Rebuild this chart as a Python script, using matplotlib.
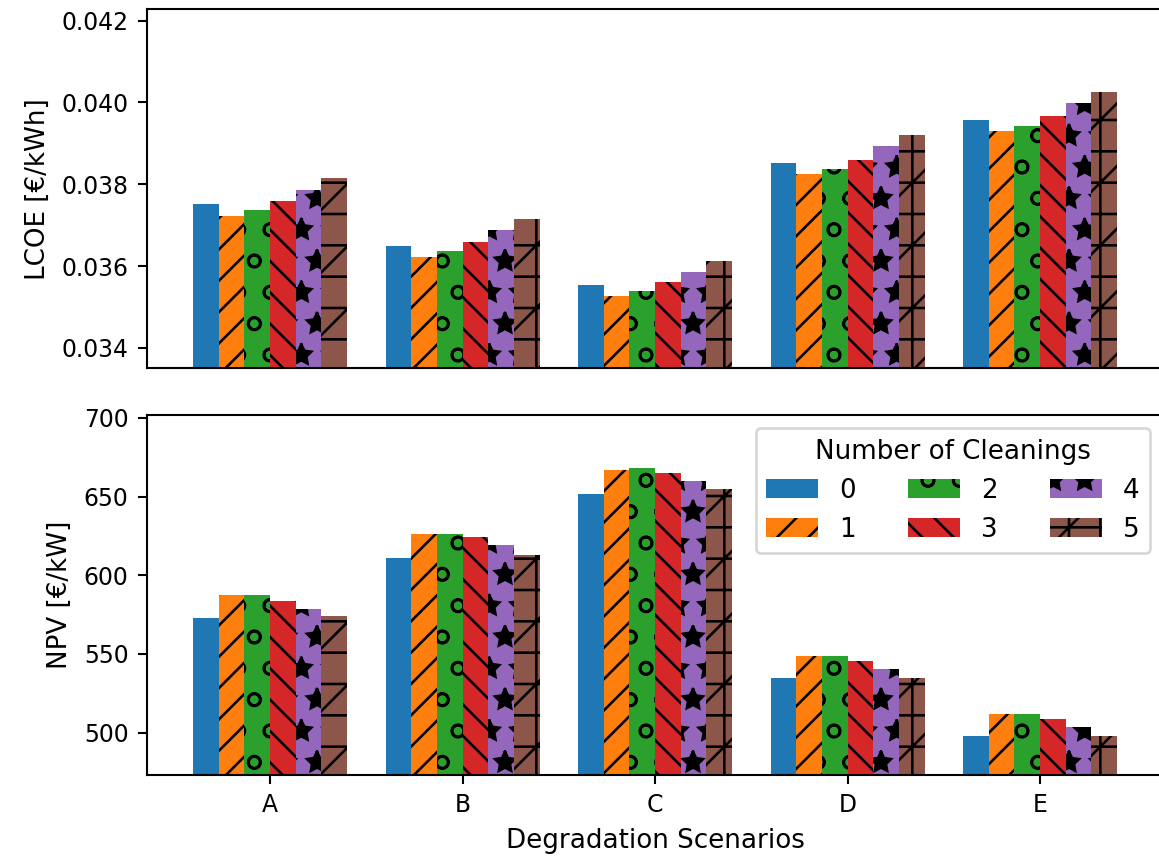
import numpy as np
import matplotlib
matplotlib.use("Agg")
import matplotlib.pyplot as plt
from matplotlib.ticker import MultipleLocator

scenarios = ["A", "B", "C", "D", "E"]
cleanings = ["0", "1", "2", "3", "4", "5"]

# LCOE [EUR/kWh] per number of cleanings, over scenarios A-E
lcoe_0 = [0.03751, 0.03650, 0.03554, 0.03852, 0.03956]
lcoe_1 = [0.03723, 0.03623, 0.03527, 0.03824, 0.03929]
lcoe_2 = [0.03737, 0.03637, 0.03540, 0.03838, 0.03943]
lcoe_3 = [0.03759, 0.03659, 0.03562, 0.03860, 0.03966]
lcoe_4 = [0.03787, 0.03687, 0.03585, 0.03893, 0.03998]
lcoe_5 = [0.03815, 0.03714, 0.03612, 0.03920, 0.04026]

# NPV [EUR/kW]
npv_0 = [572.9, 610.9, 651.5, 534.9, 497.9]
npv_1 = [587.3, 626.4, 666.9, 548.6, 512.0]
npv_2 = [587.3, 626.4, 668.4, 548.6, 512.0]
npv_3 = [583.5, 624.0, 664.8, 545.4, 508.5]
npv_4 = [578.8, 619.4, 660.0, 540.6, 503.6]
npv_5 = [574.0, 613.0, 654.9, 534.9, 497.9]

lcoe = [lcoe_0, lcoe_1, lcoe_2, lcoe_3, lcoe_4, lcoe_5]
npv = [npv_0, npv_1, npv_2, npv_3, npv_4, npv_5]

hatches = ["", "//", "o", "\\\\", "*", "+/"]
colors = plt.rcParams["axes.prop_cycle"].by_key()["color"][:6]

DPI = 188
W, H = 1159, 857
# render on a slightly larger canvas so the hatch pattern phase matches, then crop
PADL, PADT = 12, 21
CW, CH = W + PADL, H + PADT
fig = plt.figure(figsize=((CW + 0.01) / DPI, (CH + 0.01) / DPI), dpi=DPI)


def rect(left_px, top_px, right_px, bottom_px):
    return [(left_px + PADL) / CW, (H - bottom_px) / CH,
            (right_px - left_px) / CW, (bottom_px - top_px) / CH]


ax1 = fig.add_axes(rect(146.8, 9.5, 1163.2, 368))
ax2 = fig.add_axes(rect(146.8, 415, 1163.2, 775))

x = np.arange(len(scenarios))
bw = 0.8 / len(cleanings)

for j, lab in enumerate(cleanings):
    off = (j - (len(cleanings) - 1) / 2) * bw
    ax1.bar(x + off, lcoe[j], bw, color=colors[j], hatch=hatches[j], label=lab)
    ax2.bar(x + off, npv[j], bw, color=colors[j], hatch=hatches[j], label=lab)

all_lcoe = np.array(lcoe)
all_npv = np.array(npv)
ax1.set_ylim(all_lcoe.min() * 0.95, all_lcoe.max() * 1.05)
ax2.set_ylim(all_npv.min() * 0.95, all_npv.max() * 1.05)

ax1.yaxis.set_major_locator(MultipleLocator(0.002))
ax2.yaxis.set_major_locator(MultipleLocator(50))

ax1.set_xticks([])
ax2.set_xticks(x)
ax2.set_xticklabels(scenarios)
for ax in (ax1, ax2):
    ax.set_xlim(-0.64, len(scenarios) - 1 + 0.64)
    ax.tick_params(labelsize=9)

ax1.set_ylabel("LCOE [€/kWh]", fontsize=10)
ax2.set_ylabel("NPV [€/kW]", fontsize=10)
ax2.set_xlabel("Degradation Scenarios", fontsize=10)

ax2.legend(title="Number of Cleanings", ncol=3, loc="upper right", fontsize=10,
           title_fontsize=10)

fig.canvas.draw()
buf = np.asarray(fig.canvas.buffer_rgba())
img = buf[PADT:PADT + H, PADL:PADL + W, :]
plt.imsave("out.png", img)
